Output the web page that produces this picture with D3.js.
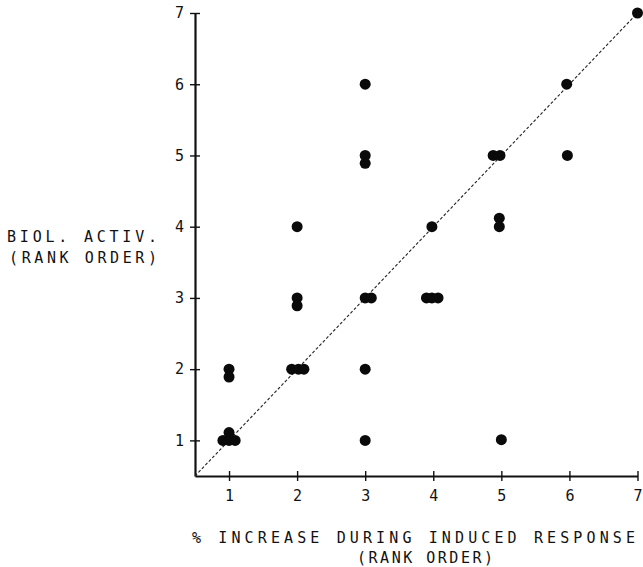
<!DOCTYPE html>
<html>
<head>
<meta charset="utf-8">
<script src="https://cdn.jsdelivr.net/npm/d3@7"></script>
<style>
  body { margin: 0; background: #ffffff; }
  text { font-family: "DejaVu Sans Mono", monospace; fill: #111; }
</style>
</head>
<body>
<div id="container"></div>
<script>
/* DATA |, rank orders */
const rankTicks = [1, 2, 3, 4, 5, 6, 7]
const xIncrease = [0.91, 1, 1.09, 1, 1, 1,
  1.92, 2.02, 2.1, 2, 2, 2,
  3, 3.09, 3, 3, 3, 3, 3,
  3.9, 3.98, 4.07, 3.98,
  4.88, 4.98, 4.97, 4.97, 5,
  5.96, 5.97, 7]
const yActivity = [1, 1, 1, 1.11, 2, 1.89,
  2, 2, 2, 3, 2.89, 4,
  3, 3, 2, 1, 5, 4.89, 6,
  3, 3, 3, 4,
  5, 5, 4.12, 4.0, 1.01,
  6, 5, 7]
const diagonal = [0.5, 7] /* line of identity */

/* CONSTANTS AND GLOBALS */
const width = 643,
  height = 567

const xScale = d3.scaleLinear()
  .domain([0.5, 7])
  .range([195, 637.5])

const yScale = d3.scaleLinear()
  .domain([0.5, 7])
  .range([476, 13])

const svg = d3.select("#container")
  .append("svg")
  .attr("width", width)
  .attr("height", height)

/* AXES | ticks cross the axis line, like the plotter drawing */
const xAxis = d3.axisBottom(xScale)
  .tickValues(rankTicks)
  .tickFormat(d3.format("d"))
  .tickSize(5)
  .tickSizeOuter(0)
  .tickPadding(9)

const xAxisGroup = svg.append("g")
  .attr("transform", `translate(0, ${yScale(0.5)})`)
  .call(xAxis)

const yAxis = d3.axisLeft(yScale)
  .tickValues(rankTicks)
  .tickFormat(d3.format("d"))
  .tickSize(5)
  .tickSizeOuter(0)
  .tickPadding(6)

const yAxisGroup = svg.append("g")
  .attr("transform", `translate(${xScale(0.5)}, 0)`)
  .call(yAxis)

for (const g of [xAxisGroup, yAxisGroup]) {
  g.select(".domain")
    .attr("stroke", "#111")
    .attr("stroke-width", 2.2)
  g.selectAll(".tick line")
    .attr("stroke", "#111")
    .attr("stroke-width", 1.4)
  g.selectAll(".tick text")
    .style("font-size", "15px")
    .style("font-family", "'DejaVu Sans Mono', monospace")
    .attr("fill", "#111")
}

/* other half of each tick, on the inner side of the axis */
xAxisGroup.selectAll(".tick").append("line")
  .attr("y1", -5).attr("y2", 0)
  .attr("stroke", "#111").attr("stroke-width", 1.4)
yAxisGroup.selectAll(".tick").append("line")
  .attr("x1", 0).attr("x2", 5)
  .attr("stroke", "#111").attr("stroke-width", 1.4)

/* DIAGONAL */
svg.append("line")
  .attr("x1", xScale(diagonal[0]))
  .attr("y1", yScale(diagonal[0]))
  .attr("x2", xScale(diagonal[1]))
  .attr("y2", yScale(diagonal[1]))
  .attr("stroke", "#222")
  .attr("stroke-width", 1.1)
  .attr("stroke-dasharray", "3,2")

/* POINTS */
svg.selectAll(".dot")
  .data(xIncrease.map((x, i) => ({ x: x, y: yActivity[i] })))
  .join("circle")
  .attr("class", "dot")
  .attr("cx", d => xScale(d.x))
  .attr("cy", d => yScale(d.y))
  .attr("r", 5.5)
  .attr("fill", "#0a0a0a")

/* AXIS LABELS */
const labelStyle = sel => sel
  .style("font-size", "15px")
  .attr("lengthAdjust", "spacing")

svg.append("text").call(labelStyle)
  .attr("x", 7).attr("y", 242)
  .attr("textLength", 150)
  .text("BIOL. ACTIV.")
svg.append("text").call(labelStyle)
  .attr("x", 9).attr("y", 263)
  .attr("textLength", 148)
  .text("(RANK ORDER)")

svg.append("text").call(labelStyle)
  .attr("x", 192).attr("y", 543)
  .attr("textLength", 443)
  .text("% INCREASE DURING INDUCED RESPONSE")
svg.append("text").call(labelStyle)
  .attr("x", 357).attr("y", 563)
  .attr("textLength", 136)
  .text("(RANK ORDER)")
</script>
</body>
</html>
